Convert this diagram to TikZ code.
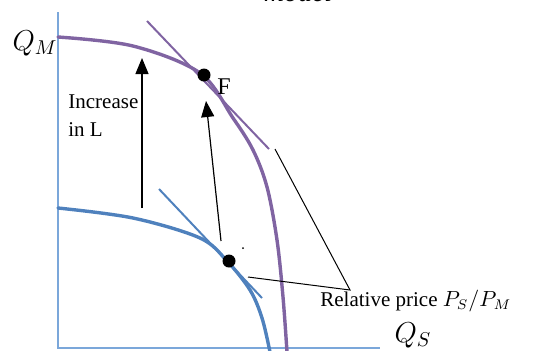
\documentclass[tikz,border=0pt]{standalone}
\usepackage{fontspec}
\setmainfont{Liberation Serif}
\usetikzlibrary{arrows.meta}
\definecolor{axisblue}{HTML}{7BA7DA}
\definecolor{ppfblue}{HTML}{4F81BD}
\definecolor{ppfpurple}{HTML}{8064A2}
\tikzset{
  axis/.style={draw=axisblue, line width=0.8pt},
  ppf/.style={line width=1.7pt, line cap=round},
  tang/.style={line width=1pt},
  dotnode/.style={circle, fill=black, inner sep=0pt, minimum size=6.5pt},
  shiftarrow/.style={line width=0.6pt, -{Triangle[width=6.5pt,length=8pt]}},
  pointer/.style={line width=0.5pt},
  lbl/.style={font=\fontsize{10.5}{12}\selectfont, inner sep=0pt},
  mlbl/.style={font=\fontsize{14}{16}\selectfont, inner sep=0pt}
}
\begin{document}
\begin{tikzpicture}[x=0.5pt,y=-0.5pt]
\useasboundingbox (0,0) rectangle (534,350);
% clipped title
\node[mlbl, anchor=base] (title) at (298,1) {$\mathit{model}$};
% axes
\coordinate (o) at (58,348);
\coordinate (ytop) at (58,12);
\coordinate (xend) at (380,348);
\draw[axis] (ytop) -- (o) -- (xend);
% purple PPF
\draw[ppf, ppfpurple] plot[smooth, tension=0.55] coordinates {(58,37) (133,46) (200,73) (233,118) (253,150) (267,187) (277,240) (283,297) (287,352)};
% purple tangent
\coordinate (pt1) at (147,21);
\coordinate (pt2) at (269,149);
\draw[tang, ppfpurple] (pt1) -- (pt2);
% blue PPF
\draw[ppf, ppfblue] plot[smooth, tension=0.55] coordinates {(58,208) (133,218) (200,238) (227,261) (250,290) (262,318) (270,352)};
% blue tangent
\coordinate (bt1) at (159,189);
\coordinate (bt2) at (262,298);
\draw[tang, ppfblue] (bt1) -- (bt2);
% dots
\node[dotnode] (F) at (204,75) {};
\node[dotnode] (E) at (229,261) {};
\node[lbl, font=\fontsize{12}{14}\selectfont] (Flbl) at (224,87) {F};
\fill (243,248) circle (0.5pt);
% shift arrows
\coordinate (a1s) at (142,208);
\coordinate (a1e) at (142,58);
\draw[shiftarrow] (a1s) -- (a1e);
\coordinate (a2s) at (221,241);
\coordinate (a2e) at (206,101);
\draw[shiftarrow] (a2s) -- (a2e);
% labels
\node[lbl, anchor=west] (inc) at (68,102) {Increase};
\node[lbl, anchor=west] (inl) at (68,130) {in L};
\node[mlbl] (QM) at (35,43) {$Q_M$};
\node[mlbl] (QS) at (413,335) {$Q_S$};
\node[lbl, anchor=base west] (rp) at (320,306) {Relative price $P_S/P_M$};
% pointer lines
\coordinate (meet) at (350,290);
\coordinate (p1) at (275,149);
\coordinate (p2) at (248,277);
\draw[pointer] (p1) -- (meet) -- (p2);
\end{tikzpicture}
\end{document}
